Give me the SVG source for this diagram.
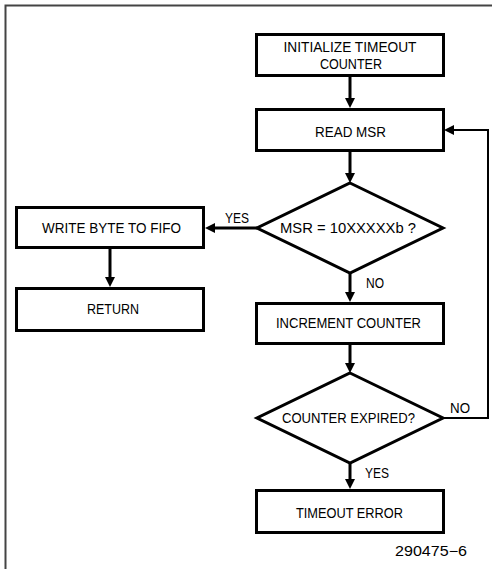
<svg xmlns="http://www.w3.org/2000/svg" width="492" height="569" viewBox="0 0 492 569">
<style>
.box{fill:#fff;stroke:#000;stroke-width:3}
.t{font-family:"Liberation Sans",Arial,sans-serif;font-size:14px;fill:#000;text-anchor:middle}
.c{stroke:#000;stroke-width:3;fill:none}
.fb{stroke:#000;stroke-width:2;fill:none}
.frame{stroke:#444;stroke-width:2;fill:none}
</style>
<defs>
<marker id="ah" viewBox="0 0 10 10" markerWidth="10" markerHeight="10" refX="1" refY="5" orient="auto" markerUnits="userSpaceOnUse">
<path d="M0,0 L10,5 L0,10 z" fill="#000"/>
</marker>
</defs>
<rect width="492" height="569" fill="#fff"/>
<path class="frame" d="M5.5,569 V5.5 H492"/>

<g id="connectors">
<line class="c" x1="350" y1="76" x2="350" y2="99" marker-end="url(#ah)"/>
<line class="c" x1="350" y1="151" x2="350" y2="174" marker-end="url(#ah)"/>
<line class="c" x1="350" y1="273" x2="350" y2="293" marker-end="url(#ah)"/>
<line class="c" x1="350" y1="344" x2="350" y2="364" marker-end="url(#ah)"/>
<line class="c" x1="350" y1="463" x2="350" y2="480" marker-end="url(#ah)"/>
<line class="c" x1="257" y1="228" x2="214" y2="228" marker-end="url(#ah)"/>
<line class="c" x1="110" y1="248" x2="110" y2="278" marker-end="url(#ah)"/>
<polyline class="fb" points="443,418 488,418 488,130 453,130" marker-end="url(#ah)"/>
<text class="t" x="237" y="223" textLength="24" lengthAdjust="spacingAndGlyphs">YES</text>
<text class="t" x="375" y="288" textLength="18" lengthAdjust="spacingAndGlyphs">NO</text>
<text class="t" x="460" y="413" textLength="20" lengthAdjust="spacingAndGlyphs">NO</text>
<text class="t" x="377" y="478" textLength="24" lengthAdjust="spacingAndGlyphs">YES</text>
</g>

<g id="init">
<rect class="box" x="256.5" y="34.5" width="187" height="41"/>
<text class="t" x="350" y="52" textLength="133" lengthAdjust="spacingAndGlyphs">INITIALIZE TIMEOUT</text>
<text class="t" x="351" y="69" textLength="62" lengthAdjust="spacingAndGlyphs">COUNTER</text>
</g>

<g id="readmsr">
<rect class="box" x="256.5" y="109.5" width="187" height="41"/>
<text class="t" x="350.5" y="137" textLength="71" lengthAdjust="spacingAndGlyphs">READ MSR</text>
</g>

<g id="msrcheck">
<polygon class="box" points="350,183 443,228 350,273 257,228"/>
<text class="t" x="348" y="233" textLength="136" lengthAdjust="spacingAndGlyphs">MSR = 10XXXXXb ?</text>
</g>

<g id="writebyte">
<rect class="box" x="16.5" y="207.5" width="187" height="40"/>
<text class="t" x="111.5" y="233" textLength="139" lengthAdjust="spacingAndGlyphs">WRITE BYTE TO FIFO</text>
</g>

<g id="return">
<rect class="box" x="16.5" y="288.5" width="187" height="42"/>
<text class="t" x="113" y="314" textLength="52" lengthAdjust="spacingAndGlyphs">RETURN</text>
</g>

<g id="increment">
<rect class="box" x="256.5" y="303.5" width="187" height="40"/>
<text class="t" x="348.5" y="328" textLength="145" lengthAdjust="spacingAndGlyphs">INCREMENT COUNTER</text>
</g>

<g id="expired">
<polygon class="box" points="350,373 443,418 350,463 257,418"/>
<text class="t" x="348.5" y="423" textLength="133" lengthAdjust="spacingAndGlyphs">COUNTER EXPIRED?</text>
</g>

<g id="timeout">
<rect class="box" x="256.5" y="490.5" width="187" height="42"/>
<text class="t" x="349.5" y="518" textLength="107" lengthAdjust="spacingAndGlyphs">TIMEOUT ERROR</text>
</g>

<text class="t" x="431" y="556" textLength="72" lengthAdjust="spacingAndGlyphs">290475−6</text>
</svg>
